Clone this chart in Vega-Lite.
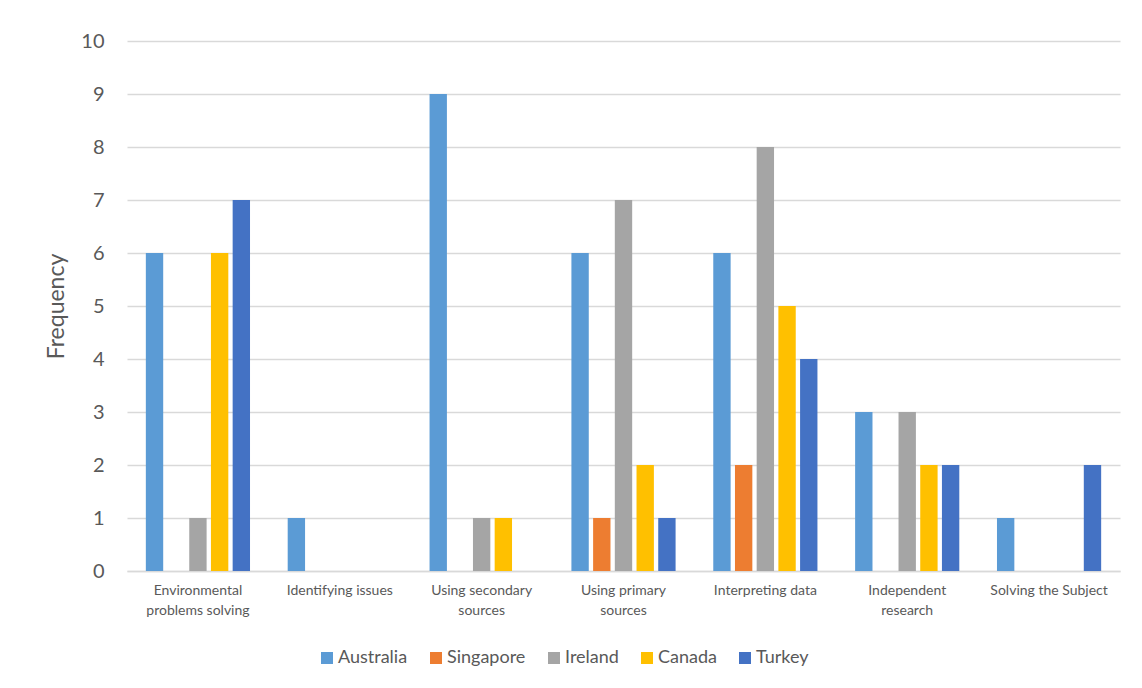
{
  "$schema": "https://vega.github.io/schema/vega-lite/v6.json",
  "autosize": "none",
  "width": 993,
  "height": 530,
  "padding": {"left": 127, "top": 41, "right": 22, "bottom": 117},
  "background": "white",
  "config": {
    "font": "Lato",
    "view": {"stroke": null},
    "axis": {"labelColor": "#595959", "titleColor": "#595959", "titleFontWeight": "normal"}
  },
  "data": {
    "values": [
      {"skill": "Environmental problems solving", "country": "Australia", "frequency": 6},
      {"skill": "Environmental problems solving", "country": "Singapore", "frequency": 0},
      {"skill": "Environmental problems solving", "country": "Ireland", "frequency": 1},
      {"skill": "Environmental problems solving", "country": "Canada", "frequency": 6},
      {"skill": "Environmental problems solving", "country": "Turkey", "frequency": 7},
      {"skill": "Identifying issues", "country": "Australia", "frequency": 1},
      {"skill": "Identifying issues", "country": "Singapore", "frequency": 0},
      {"skill": "Identifying issues", "country": "Ireland", "frequency": 0},
      {"skill": "Identifying issues", "country": "Canada", "frequency": 0},
      {"skill": "Identifying issues", "country": "Turkey", "frequency": 0},
      {"skill": "Using secondary sources", "country": "Australia", "frequency": 9},
      {"skill": "Using secondary sources", "country": "Singapore", "frequency": 0},
      {"skill": "Using secondary sources", "country": "Ireland", "frequency": 1},
      {"skill": "Using secondary sources", "country": "Canada", "frequency": 1},
      {"skill": "Using secondary sources", "country": "Turkey", "frequency": 0},
      {"skill": "Using primary sources", "country": "Australia", "frequency": 6},
      {"skill": "Using primary sources", "country": "Singapore", "frequency": 1},
      {"skill": "Using primary sources", "country": "Ireland", "frequency": 7},
      {"skill": "Using primary sources", "country": "Canada", "frequency": 2},
      {"skill": "Using primary sources", "country": "Turkey", "frequency": 1},
      {"skill": "Interpreting data", "country": "Australia", "frequency": 6},
      {"skill": "Interpreting data", "country": "Singapore", "frequency": 2},
      {"skill": "Interpreting data", "country": "Ireland", "frequency": 8},
      {"skill": "Interpreting data", "country": "Canada", "frequency": 5},
      {"skill": "Interpreting data", "country": "Turkey", "frequency": 4},
      {"skill": "Independent research", "country": "Australia", "frequency": 3},
      {"skill": "Independent research", "country": "Singapore", "frequency": 0},
      {"skill": "Independent research", "country": "Ireland", "frequency": 3},
      {"skill": "Independent research", "country": "Canada", "frequency": 2},
      {"skill": "Independent research", "country": "Turkey", "frequency": 2},
      {"skill": "Solving the Subject", "country": "Australia", "frequency": 1},
      {"skill": "Solving the Subject", "country": "Singapore", "frequency": 0},
      {"skill": "Solving the Subject", "country": "Ireland", "frequency": 0},
      {"skill": "Solving the Subject", "country": "Canada", "frequency": 0},
      {"skill": "Solving the Subject", "country": "Turkey", "frequency": 2}
    ]
  },
  "mark": {"type": "bar"},
  "encoding": {
    "x": {
      "field": "skill",
      "type": "nominal",
      "sort": null,
      "title": null,
      "scale": {"paddingInner": 0.235, "paddingOuter": 0.1175},
      "axis": {
        "labelAngle": 0,
        "labelFontSize": 14,
        "labelPadding": 12,
        "labelLineHeight": 20,
        "labelBaseline": "top",
        "labelLimit": 200,
        "ticks": false,
        "domain": true,
        "domainColor": "#d9d9d9",
        "domainWidth": 1.5,
        "labelExpr": "datum.label == 'Environmental problems solving' ? ['Environmental', 'problems solving'] : datum.label == 'Using secondary sources' ? ['Using secondary', 'sources'] : datum.label == 'Using primary sources' ? ['Using primary', 'sources'] : datum.label == 'Independent research' ? ['Independent', 'research'] : datum.label"
      }
    },
    "xOffset": {
      "field": "country",
      "type": "nominal",
      "sort": ["Australia", "Singapore", "Ireland", "Canada", "Turkey"],
      "scale": {"paddingInner": 0.2, "paddingOuter": 0.1}
    },
    "y": {
      "field": "frequency",
      "type": "quantitative",
      "title": "Frequency",
      "scale": {"domain": [0, 10], "nice": false},
      "axis": {
        "values": [0, 1, 2, 3, 4, 5, 6, 7, 8, 9, 10],
        "labelOverlap": false,
        "labelFontSize": 20,
        "labelPadding": 23,
        "titleFontSize": 23,
        "titlePadding": 12,
        "ticks": false,
        "domain": false,
        "grid": true,
        "gridColor": "#d9d9d9",
        "gridWidth": 1.5
      }
    },
    "color": {
      "field": "country",
      "type": "nominal",
      "sort": ["Australia", "Singapore", "Ireland", "Canada", "Turkey"],
      "scale": {
        "domain": ["Australia", "Singapore", "Ireland", "Canada", "Turkey"],
        "range": ["#5B9BD5", "#ED7D31", "#A5A5A5", "#FFC000", "#4472C4"]
      },
      "legend": {
        "title": null,
        "orient": "none",
        "direction": "horizontal",
        "legendX": 191,
        "legendY": 608,
        "symbolType": "square",
        "symbolSize": 144,
        "symbolStrokeWidth": 0,
        "symbolOpacity": 1,
        "labelFontSize": 18,
        "labelColor": "#595959",
        "labelOffset": 2,
        "columnPadding": 19
      }
    }
  }
}
